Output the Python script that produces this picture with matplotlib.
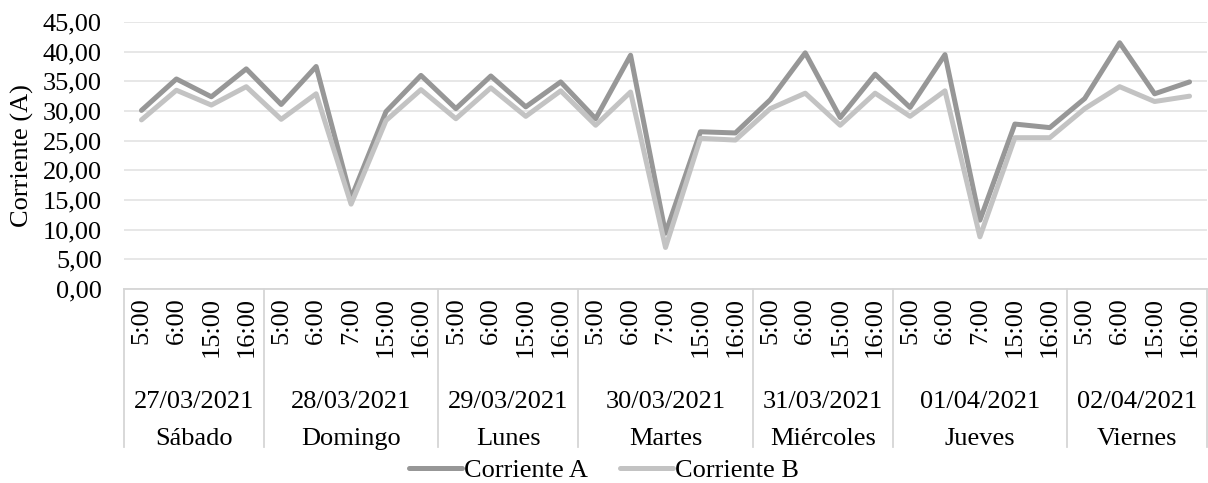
import numpy as np
import matplotlib
matplotlib.use('Agg')
import matplotlib.pyplot as plt
from matplotlib.ticker import FuncFormatter
import matplotlib.transforms as mtransforms

# datos
dias = ['Sábado', 'Domingo', 'Lunes', 'Martes', 'Miércoles', 'Jueves', 'Viernes']
fechas = ['27/03/2021', '28/03/2021', '29/03/2021', '30/03/2021',
          '31/03/2021', '01/04/2021', '02/04/2021']
horas = [
    ['5:00', '6:00', '15:00', '16:00'],
    ['5:00', '6:00', '7:00', '15:00', '16:00'],
    ['5:00', '6:00', '15:00', '16:00'],
    ['5:00', '6:00', '7:00', '15:00', '16:00'],
    ['5:00', '6:00', '15:00', '16:00'],
    ['5:00', '6:00', '7:00', '15:00', '16:00'],
    ['5:00', '6:00', '15:00', '16:00'],
]
corriente_a = [30.1, 35.4, 32.4, 37.1, 31.1, 37.5, 15.3, 29.9, 36.0, 30.4,
               35.9, 30.7, 34.9, 28.7, 39.4, 9.4, 26.5, 26.3, 31.9, 39.8,
               28.9, 36.2, 30.6, 39.5, 11.6, 27.8, 27.2, 32.1, 41.5, 32.9, 34.9]
corriente_b = [28.5, 33.5, 31.0, 34.1, 28.6, 32.9, 14.3, 28.4, 33.6, 28.7,
               33.9, 29.1, 33.4, 27.6, 33.2, 7.0, 25.4, 25.1, 30.4, 33.0,
               27.6, 33.0, 29.1, 33.4, 8.8, 25.5, 25.5, 30.4, 34.1, 31.6, 32.5]

plt.rcParams['font.family'] = ['Liberation Serif', 'DejaVu Serif']
plt.rcParams['font.size'] = 19

etiquetas = [h for grupo in horas for h in grupo]
x = np.arange(len(etiquetas))

fig = plt.figure(figsize=(12.08, 4.83), dpi=100)
ax = fig.add_axes([124/1208, 1-289/483, (1207-124)/1208, (289-22)/483])

ax.plot(x, corriente_a, color='#979797', lw=3.6, label='Corriente A',
        solid_joinstyle='round', solid_capstyle='round', zorder=3)
ax.plot(x, corriente_b, color='#c3c3c3', lw=3.6, label='Corriente B',
        solid_joinstyle='round', solid_capstyle='round', zorder=3)

ax.set_xlim(-0.5, len(etiquetas) - 0.5)
ax.set_ylim(0, 45)
ax.set_yticks(np.arange(0, 46, 5))
ax.yaxis.set_major_formatter(FuncFormatter(lambda v, p: f'{v:.2f}'.replace('.', ',')))
ax.grid(axis='y', color='#e5e5e5', lw=1.3)
ax.set_axisbelow(True)
for s in ['top', 'left', 'right']:
    ax.spines[s].set_visible(False)
ax.spines['bottom'].set_color('#d6d6d6')
ax.spines['bottom'].set_linewidth(1.3)
ax.tick_params(axis='y', length=0, pad=16)
ax.set_xticks(x)
ax.set_xticklabels(etiquetas, rotation=90)
ax.tick_params(axis='x', length=0, pad=6)

# separadores y etiquetas de grupo
trans = mtransforms.blended_transform_factory(ax.transData, ax.transAxes)
inicio = 0
limites = [-0.5]
for i, grupo in enumerate(horas):
    fin = inicio + len(grupo)
    centro = (inicio + fin - 1) / 2
    ax.text(centro, -0.424, fechas[i], transform=trans, ha='center', va='center')
    ax.text(centro, -0.562, dias[i], transform=trans, ha='center', va='center')
    limites.append(fin - 0.5)
    inicio = fin
for b in limites:
    ax.plot([b, b], [0, -0.592], transform=trans, color='#d6d6d6', lw=1.3,
            clip_on=False)

fig.text(22/1208, 1-156/483, 'Corriente (A)', rotation=90, ha='center', va='center')

fig.legend(loc='center', bbox_to_anchor=(0.5, 1-470/483), ncol=2, frameon=False,
           handlelength=2.0, handletextpad=0.1, columnspacing=1.2,
           borderaxespad=0)

fig.savefig('out.png', dpi=100)
